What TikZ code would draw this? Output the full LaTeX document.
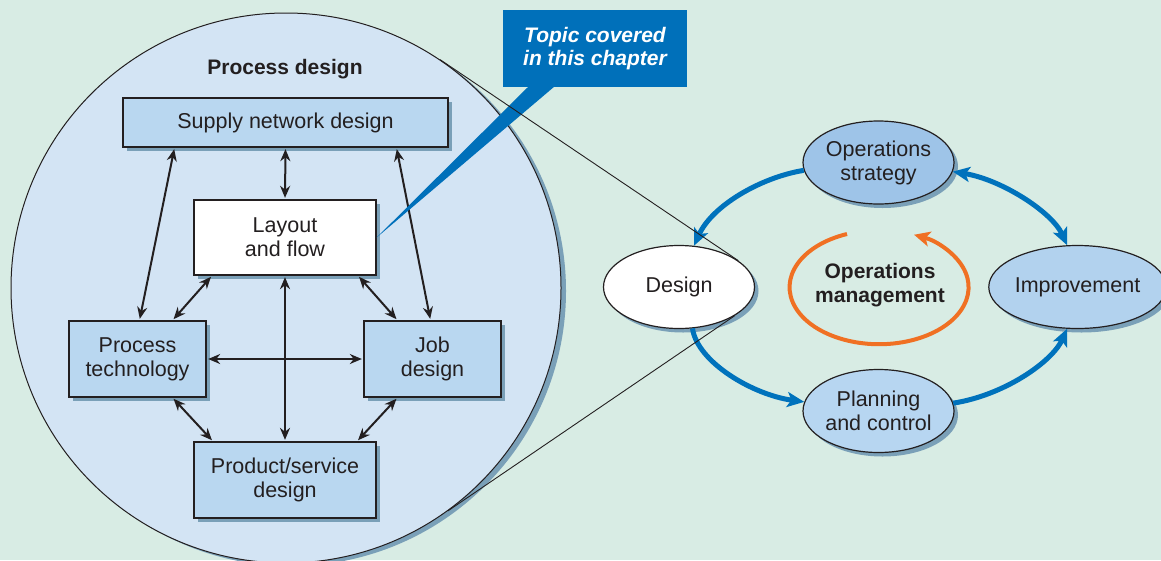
\documentclass[tikz,border=0pt]{standalone}
\usepackage{fontspec}
\setmainfont{Liberation Sans}
\usetikzlibrary{arrows.meta,shapes.geometric,shadows,calc}
\definecolor{bg}{RGB}{216,236,228}
\definecolor{circfill}{RGB}{211,228,244}
\definecolor{boxfill}{RGB}{185,215,240}
\definecolor{shadowc}{RGB}{122,160,184}
\definecolor{txt}{RGB}{35,31,32}
\definecolor{opblue}{RGB}{0,114,188}
\definecolor{calloutblue}{RGB}{0,112,186}
\definecolor{orng}{RGB}{240,112,35}
\definecolor{ellA}{RGB}{158,196,232}
\definecolor{ellB}{RGB}{178,210,238}
\definecolor{ellC}{RGB}{183,214,241}
\begin{document}
\begin{tikzpicture}[x=1pt,y=-1pt,
  font=\fontsize{21.5}{24}\selectfont, text=txt,
  shad/.style={drop shadow={shadow xshift=4pt,shadow yshift=-4pt,fill=shadowc,opacity=1}},
  boxnode/.style={draw=txt, line width=1.3pt, fill=boxfill, shad, align=center, inner sep=0pt},
  ellnode/.style={ellipse, draw=txt, line width=1.2pt, shad, align=center, inner sep=0pt, minimum width=151pt, minimum height=83pt},
  biarrow/.style={{Stealth[length=12pt,width=10pt]}-{Stealth[length=12pt,width=10pt]}, line width=2pt, draw=txt, shorten <=1.5pt, shorten >=1.5pt},
  bluearrow/.style={-{Stealth[length=17pt,width=15pt,inset=4pt]}, line width=5pt, draw=opblue},
  bluebi/.style={{Stealth[length=17pt,width=15pt,inset=4pt]}-{Stealth[length=17pt,width=15pt,inset=4pt]}, line width=5pt, draw=opblue},
  zoomline/.style={line width=0.9pt, draw=txt},
]
\useasboundingbox (0,0) rectangle (1161,560);
\fill[bg] (0,0) rectangle (1161,560);
\clip (0,0) rectangle (1161,560);

% big circle
\node[circle, draw=txt, line width=1pt, fill=circfill, minimum size=550pt, inner sep=0pt,
  drop shadow={shadow xshift=5pt,shadow yshift=-3pt,fill=shadowc,opacity=1}] (pd) at (286,288) {};
\node[font=\fontsize{21}{24}\selectfont\bfseries] (title) at (285,69) {Process design};

% boxes
\node[boxnode, minimum width=325pt, minimum height=49pt] (supply) at (285.5,122.5) {Supply network design};
\node[boxnode, fill=white, minimum width=182pt, minimum height=75pt] (layout) at (285,237.5) {Layout\\and flow};
\node[boxnode, minimum width=137pt, minimum height=76pt] (proc) at (137.5,359) {Process\\technology};
\node[boxnode, minimum width=137pt, minimum height=76pt] (job) at (432.5,359) {Job\\design};
\node[boxnode, minimum width=182pt, minimum height=76pt] (prod) at (285,480) {Product/service\\design};

% black arrows
\draw[biarrow] ([xshift=-111pt]supply.south) -- ([xshift=2pt]proc.north);
\draw[biarrow] (supply.south) -- (layout.north);
\draw[biarrow] ([xshift=111pt]supply.south) -- ([xshift=-2pt]job.north);
\draw[biarrow] ([xshift=-73pt]layout.south) -- ([xshift=35pt]proc.north);
\draw[biarrow] ([xshift=73pt]layout.south) -- ([xshift=-35pt]job.north);
\draw[biarrow] (layout.south) -- (prod.north);
\draw[biarrow] (proc.east) -- (job.west);
\draw[biarrow] ([xshift=35pt]proc.south) -- ([xshift=-72pt]prod.north);
\draw[biarrow] ([xshift=-35pt]job.south) -- ([xshift=72pt]prod.north);

% callout
\node[fill=calloutblue, text=white, font=\fontsize{21}{23}\selectfont\bfseries\itshape,
  minimum width=184pt, minimum height=77pt, align=center, inner sep=0pt] (callout) at (595,48.5) {Topic covered\\in this chapter};
\fill[calloutblue] ([xshift=26pt,yshift=1pt]callout.south west) -- (layout.east) -- ([xshift=52pt,yshift=1pt]callout.south west) -- cycle;

% right cycle
\node[ellnode, fill=white] (design) at (679,287) {Design};
\node[ellnode, fill=ellA] (strat) at (878.5,162.5) {Operations\\strategy};
\node[ellnode, fill=ellB] (impr) at (1077.5,287) {Improvement};
\node[ellnode, fill=ellC] (plan) at (878.5,411) {Planning\\and control};

\draw[bluearrow] (strat.186) .. controls +(-43,7) and +(18,-40) .. (design.70);
\draw[bluebi] (strat.-7) .. controls +(49,8) and +(-15,-33) .. (impr.104);
\draw[bluearrow] (design.-72) .. controls +(5,34) and +(-51,-7) .. (plan.173);
\draw[bluearrow] (plan.6) .. controls +(51,-8) and +(-15,33) .. (impr.-104);

% zoom lines
\draw[zoomline] (pd.56) -- (design.24);
\draw[zoomline] (pd.-54) -- (design.-27);

% centre
\node[font=\fontsize{21}{24}\selectfont\bfseries, align=center] (opm) at (880,285) {Operations\\management};
\draw[orng, line width=4pt, -{Stealth[length=16pt,width=15pt,inset=4pt]}] (847,234) arc[start angle=249, end angle=-67, x radius=89.5, y radius=57];
\end{tikzpicture}
\end{document}
